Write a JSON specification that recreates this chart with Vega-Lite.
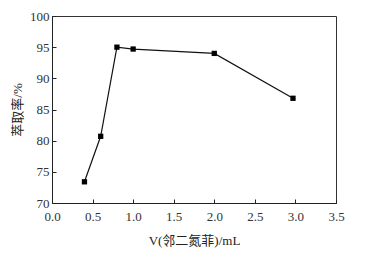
{
  "$schema": "https://vega.github.io/schema/vega-lite/v6.json",
  "width": 284,
  "height": 187,
  "autosize": {"type": "none"},
  "padding": {"left": 52, "top": 16, "right": 33, "bottom": 53},
  "background": "white",
  "config": {
    "view": {"stroke": "#333", "strokeWidth": 1},
    "axis": {
      "grid": false,
      "domainColor": "#222",
      "tickColor": "#222",
      "tickSize": -4,
      "labelFont": "Liberation Serif",
      "labelFontSize": 13,
      "labelColor": "#333",
      "titleFont": "Liberation Serif, Noto Sans CJK SC",
      "titleFontSize": 13,
      "titleFontWeight": "normal",
      "titleColor": "#222"
    }
  },
  "data": {
    "values": [
      {"v": 0.4, "r": 73.4},
      {"v": 0.6, "r": 80.7},
      {"v": 0.8, "r": 95.0},
      {"v": 1.0, "r": 94.7},
      {"v": 2.0, "r": 94.0},
      {"v": 2.97, "r": 86.8}
    ]
  },
  "encoding": {
    "x": {
      "field": "v",
      "type": "quantitative",
      "scale": {"domain": [0, 3.5], "nice": false},
      "axis": {"values": [0, 0.5, 1, 1.5, 2, 2.5, 3, 3.5], "format": ".1f", "title": "V(邻二氮菲)/mL", "titlePadding": 11, "labelPadding": 11, "labelFlush": false}
    },
    "y": {
      "field": "r",
      "type": "quantitative",
      "scale": {"domain": [70, 100], "nice": false, "zero": false},
      "axis": {"values": [70, 75, 80, 85, 90, 95, 100], "title": "萃取率/%", "titlePadding": 5, "labelPadding": 7, "labelFlush": false}
    }
  },
  "layer": [
    {"mark": {"type": "line", "color": "#111", "strokeWidth": 1.2}},
    {"mark": {"type": "point", "shape": "square", "filled": true, "color": "#000", "size": 28, "opacity": 1}}
  ]
}
